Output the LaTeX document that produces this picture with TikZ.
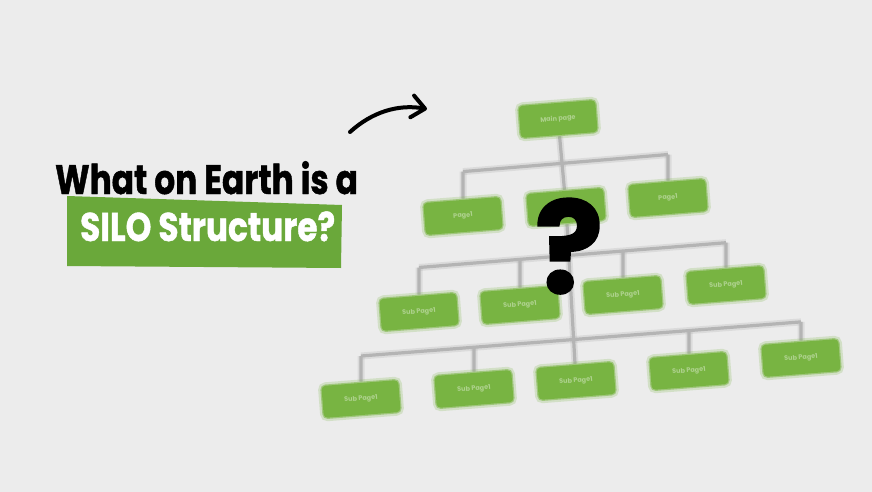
\documentclass[tikz,border=0pt]{standalone}
\usepackage{fontspec}
\newfontfamily\pop{Poppins}
\newfontfamily\popx{Poppins}[BoldFeatures={FakeBold=1.2}]
\usetikzlibrary{arrows.meta}
\pgfdeclarelayer{background}
\pgfsetlayers{background,main}
\definecolor{paper}{RGB}{236,236,236}
\definecolor{titlegreen}{RGB}{106,168,58}
\definecolor{treegreen}{RGB}{120,180,66}
\definecolor{linegray}{RGB}{180,180,180}
\tikzset{
  treebox/.style={fill=treegreen, rounded corners=4pt, minimum width=77pt, minimum height=32pt,
    inner sep=0pt, rotate=4.5, text=white, text opacity=0.4, font=\pop\bfseries\fontsize{6.5}{7}\selectfont,
    draw=treegreen, draw opacity=0.55, line width=2.5pt,
    preaction={draw=treegreen, draw opacity=0.22, line width=7pt}},
  conn/.style={draw=linegray, line width=3.2pt,
    preaction={draw=linegray, draw opacity=0.3, line width=7pt}},
  arrowline/.style={line width=4pt, line cap=round, black,
    -{Straight Barb[length=13pt,width=22pt,round]}},
}
\begin{document}
\begin{tikzpicture}[x=1pt,y=-1pt]
\useasboundingbox (0,0) rectangle (872,492);
\begin{pgfonlayer}{background}
\fill[paper] (0,0) rectangle (872,492);
\end{pgfonlayer}

% title
\fill[titlegreen] (67,196) -- (342,205) -- (341,268) -- (67,266) -- cycle;
\node[anchor=base west, inner sep=0pt, xscale=0.8, font=\popx\bfseries\fontsize{41}{41}\selectfont] (t1) at (55,194) {What on Earth is a};
\node[anchor=base west, inner sep=0pt, xscale=0.82, text=white, font=\popx\bfseries\fontsize{40}{40}\selectfont] (t2) at (80,241) {SILO Structure?};

% arrow
\coordinate (ar1) at (350,132);
\coordinate (ar2) at (427,109);
\draw[arrowline] (ar1) .. controls (372,112) and (398,104) .. (ar2);

% tree nodes
\node[treebox] (top) at (558,119) {Main page};
\node[treebox] (pA) at (463,216) {Page1};
\node[treebox] (pB) at (566,207) {Page1};
\node[treebox] (pC) at (668,198) {Page1};
\node[treebox] (sA) at (419,312) {Sub Page1};
\node[treebox] (sB) at (520,305) {Sub Page1};
\node[treebox] (sC) at (623,295) {Sub Page1};
\node[treebox] (sD) at (726,285) {Sub Page1};
\node[treebox] (tA) at (361,399) {Sub Page1};
\node[treebox] (tB) at (474,389) {Sub Page1};
\node[treebox] (tC) at (576,381) {Sub Page1};
\node[treebox] (tD) at (689,371) {Sub Page1};
\node[treebox] (tE) at (801,358) {Sub Page1};

% connectors
\coordinate (b2a) at (463,171.6);
\coordinate (b2c) at (668,154.5);
\coordinate (b3a) at (419,267.5);
\coordinate (b3b) at (520,259.3);
\coordinate (b3c) at (623,251);
\coordinate (b3d) at (726,242.7);
\coordinate (b4a) at (361,356);
\coordinate (b4b) at (474,347.4);
\coordinate (b4d) at (689,330.6);
\coordinate (b4e) at (801,321.9);
\begin{pgfonlayer}{background}
\draw[conn] (top) -- (pB);
\draw[conn] (b2a) -- (b2c);
\draw[conn] (b2a) -- (pA);
\draw[conn] (b2c) -- (pC);
\draw[conn] (pB) -- (tC);
\draw[conn] (b3a) -- (b3d);
\draw[conn] (b3a) -- (sA);
\draw[conn] (b3b) -- (sB);
\draw[conn] (b3c) -- (sC);
\draw[conn] (b3d) -- (sD);
\draw[conn] (b4a) -- (b4e);
\draw[conn] (b4a) -- (tA);
\draw[conn] (b4b) -- (tB);
\draw[conn] (b4d) -- (tD);
\draw[conn] (b4e) -- (tE);
\end{pgfonlayer}

% question mark
\node[anchor=base, inner sep=0pt, font=\popx\bfseries\fontsize{128}{128}\selectfont] (qm) at (569,293) {?};
\end{tikzpicture}
\end{document}
